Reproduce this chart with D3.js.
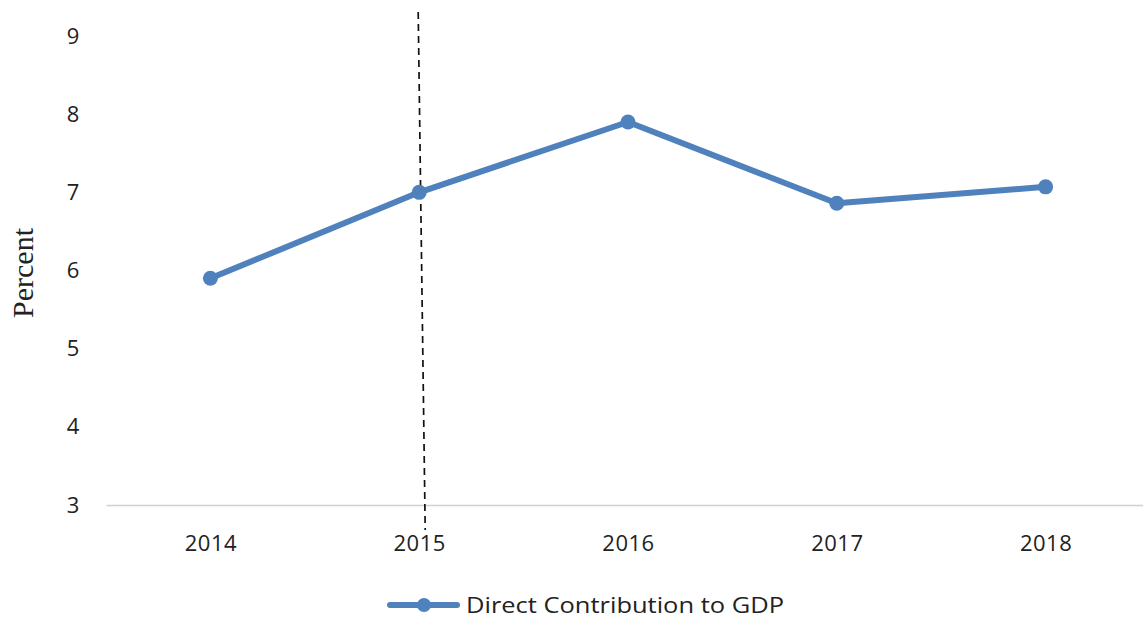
<!DOCTYPE html>
<html>
<head>
<meta charset="utf-8">
<style type="text/css">
body { margin: 0; background: #fff; }
text { font-family: "Open Sans", "Noto Sans", sans-serif; fill: #222; }
</style>
</head>
<body>
<script src="https://d3js.org/d3.v7.min.js"></script>
<script>
// chart data
var years = ["2014", "2015", "2016", "2017", "2018"];
var gdpShare = [5.9, 7.0, 7.9, 6.86, 7.07];
var yTicks = [3, 4, 5, 6, 7, 8, 9];
var seriesName = "Direct Contribution to GDP";
var markerYear = "2015";

var width = 1143, height = 619;
var plot = {left: 106, right: 1150, top: 36, bottom: 505};

var svg = d3.select("body").append("svg")
    .attr("width", width)
    .attr("height", height);

var x = d3.scalePoint()
    .domain(years)
    .range([plot.left, plot.right])
    .padding(0.5);

var y = d3.scaleLinear()
    .domain([3, 9])
    .range([plot.bottom, plot.top]);

// baseline (x axis)
var xAxis = d3.axisBottom(x).tickSize(0).tickPadding(30);
var gx = svg.append("g")
    .attr("transform", "translate(0," + plot.bottom + ")")
    .call(xAxis);
gx.select(".domain").attr("stroke", "#d0d0d0").attr("stroke-width", 1.5);
gx.selectAll("text")
    .style("font-size", "22px")
    .style("letter-spacing", "0.5px")
    .style("font-family", "'Open Sans', 'Noto Sans', sans-serif")
    .attr("fill", "#222");

// y tick labels only, no axis line
var yAxis = d3.axisLeft(y).tickValues(yTicks).tickFormat(d3.format("d")).tickSize(0).tickPadding(0);
var gy = svg.append("g")
    .attr("transform", "translate(73,0)")
    .call(yAxis);
gy.select(".domain").remove();
gy.selectAll("text")
    .attr("text-anchor", "middle")
    .style("font-size", "22px")
    .style("font-family", "'Open Sans', 'Noto Sans', sans-serif")
    .attr("fill", "#222");

// y axis title
svg.append("text")
    .attr("transform", "translate(33,273) rotate(-90)")
    .attr("text-anchor", "middle")
    .style("font-family", "'Liberation Serif', 'DejaVu Serif', serif")
    .style("font-size", "30px")
    .text("Percent");

// dashed reference line at 2015 (slightly tilted, as in the scan)
svg.append("line")
    .attr("x1", x(markerYear) - 1)
    .attr("y1", 12)
    .attr("x2", x(markerYear) + 6)
    .attr("y2", plot.bottom + 25)
    .attr("stroke", "#111")
    .attr("stroke-width", 1.7)
    .attr("stroke-dasharray", "7,5");

// series line
var data = years.map(function(d, i) { return {year: d, value: gdpShare[i]}; });
var line = d3.line()
    .x(function(d) { return x(d.year); })
    .y(function(d) { return y(d.value); });

svg.append("path")
    .datum(data)
    .attr("fill", "none")
    .attr("stroke", "#4f81bd")
    .attr("stroke-width", 6)
    .attr("stroke-linejoin", "round")
    .attr("d", line);

svg.selectAll("circle.pt")
    .data(data)
    .enter().append("circle")
    .attr("class", "pt")
    .attr("cx", function(d) { return x(d.year); })
    .attr("cy", function(d) { return y(d.value); })
    .attr("r", 7.5)
    .attr("fill", "#4f81bd");

// legend
var lg = svg.append("g").attr("transform", "translate(390,605)");
lg.append("line")
    .attr("x1", 0).attr("x2", 67)
    .attr("stroke", "#4f81bd")
    .attr("stroke-width", 6)
    .attr("stroke-linecap", "round");
lg.append("circle").attr("cx", 34).attr("r", 7).attr("fill", "#4f81bd");
lg.append("text")
    .attr("x", 76)
    .attr("y", 0)
    .attr("dominant-baseline", "central")
    .attr("textLength", 318)
    .attr("lengthAdjust", "spacingAndGlyphs")
    .style("font-size", "21px")
    .text(seriesName);
</script>
</body>
</html>
